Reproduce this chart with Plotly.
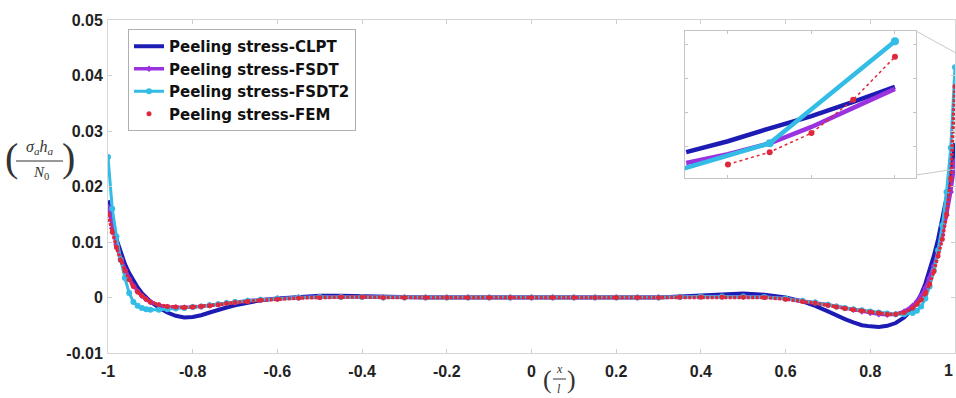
import plotly.graph_objects as go

# ---------------- data ----------------
x_vals = [-1, -0.99, -0.98, -0.97, -0.96, -0.95, -0.94, -0.93, -0.92, -0.91, -0.9,
          -0.88, -0.86, -0.84, -0.82, -0.8, -0.78, -0.76, -0.74, -0.72, -0.7,
          -0.67, -0.64, -0.6,
          -0.55, -0.5, -0.45, -0.4, -0.35, -0.3, -0.25, -0.2, -0.15, -0.1, -0.05,
          0,
          0.05, 0.1, 0.15, 0.2, 0.25,
          0.3, 0.35, 0.4, 0.45, 0.5, 0.55, 0.6,
          0.64, 0.67,
          0.7, 0.72, 0.74, 0.76, 0.78, 0.8, 0.82, 0.84, 0.86, 0.88, 0.9,
          0.91, 0.92, 0.93, 0.94, 0.95, 0.96, 0.97, 0.98, 0.99, 1.0]

clpt = [0.0175, 0.0135, 0.0105, 0.0080, 0.0060, 0.0044, 0.0030, 0.0018, 0.0008, 0.0000, -0.0007,
        -0.0018, -0.0027, -0.0033, -0.0036, -0.0035, -0.0032, -0.0027, -0.0022, -0.0018, -0.0014,
        -0.0009, -0.0005, -0.0002,
        0.0001, 0.0003, 0.0003, 0.0002, 0.0001, 0.0, 0.0, 0.0, 0.0, 0.0, 0.0,
        0.0,
        0.0, 0.0, 0.0, 0.0, 0.0,
        0.0, 0.0002, 0.0004, 0.0006, 0.0007, 0.0005, 0.0000,
        -0.0007, -0.0015,
        -0.0025, -0.0033, -0.0039, -0.0045, -0.0050, -0.0052, -0.0053, -0.0051, -0.0046, -0.0036, -0.0020,
        -0.0008, 0.0006, 0.0025, 0.0048, 0.0075, 0.0105, 0.0140, 0.0180, 0.0225, 0.0278]

fsdt = [0.0163, 0.0125, 0.0095, 0.0070, 0.0050, 0.0034, 0.0021, 0.0011, 0.0003, -0.0003, -0.0008,
        -0.0014, -0.0017, -0.0018, -0.0018, -0.0017, -0.0016, -0.0014, -0.0012, -0.0010, -0.0008,
        -0.0006, -0.0004, -0.0002,
        0.0, 0.0001, 0.0001, 0.0001, 0.0, 0.0, 0.0, 0.0, 0.0, 0.0, 0.0,
        0.0,
        0.0, 0.0, 0.0, 0.0, 0.0,
        0.0, 0.0001, 0.0002, 0.0002, 0.0002, 0.0001, -0.0002,
        -0.0006, -0.0009,
        -0.0013, -0.0016, -0.0019, -0.0022, -0.0025, -0.0028, -0.0030, -0.0031, -0.0030, -0.0025, -0.0015,
        -0.0007, 0.0003, 0.0017, 0.0035, 0.0057, 0.0083, 0.0113, 0.0148, 0.0190, 0.0244]

fsdt2 = [0.0253, 0.0160, 0.0110, 0.0068, 0.0035, 0.0008, -0.0008, -0.0015, -0.0019, -0.0021, -0.0022,
         -0.0022, -0.0021, -0.0020, -0.0019, -0.0017, -0.0016, -0.0014, -0.0012, -0.0010, -0.0008,
         -0.0006, -0.0004, -0.0002,
         0.0, 0.0001, 0.0001, 0.0001, 0.0, 0.0, 0.0, 0.0, 0.0, 0.0, 0.0,
         0.0,
         0.0, 0.0, 0.0, 0.0, 0.0,
         0.0, 0.0001, 0.0002, 0.0002, 0.0002, 0.0001, -0.0002,
         -0.0006, -0.0009,
         -0.0013, -0.0016, -0.0019, -0.0021, -0.0023, -0.0025, -0.0027, -0.0029, -0.0030, -0.0030, -0.0028,
         -0.0024, -0.0016, -0.0002, 0.0020, 0.0048, 0.0085, 0.0130, 0.0190, 0.0270, 0.0415]

fem = [0.0150, 0.0118, 0.0090, 0.0067, 0.0048, 0.0032, 0.0020, 0.0010, 0.0003, -0.0003, -0.0008,
       -0.0013, -0.0016, -0.0017, -0.0018, -0.0017, -0.0016, -0.0015, -0.0013, -0.0011, -0.0009,
       -0.0007, -0.0005, -0.0003,
       -0.0001, 0.0, 0.0001, 0.0001, 0.0, 0.0, 0.0, 0.0, 0.0, 0.0, 0.0,
       0.0,
       0.0, 0.0, 0.0, 0.0, 0.0,
       0.0, 0.0001, 0.0001, 0.0001, 0.0001, 0.0, -0.0003,
       -0.0007, -0.0010,
       -0.0014, -0.0017, -0.0020, -0.0022, -0.0024, -0.0026, -0.0028, -0.0030, -0.0030, -0.0027, -0.0019,
       -0.0012, -0.0004, 0.0007, 0.0024, 0.0047, 0.0075, 0.0105, 0.0150, 0.0215, 0.0380]

# inset (zoom near x = 1)
inset_x = [0.9875, 0.99, 0.9925, 0.995, 0.9975, 1.0]
inset_clpt = [0.0242, 0.0258, 0.0277, 0.0295, 0.0316, 0.0338]
inset_fsdt = [0.0226, 0.0239, 0.0255, 0.0279, 0.0307, 0.0335]
inset_x2 = [0.985, 0.9925, 1.0]
inset_fsdt2 = [0.0201, 0.0255, 0.0405]
inset_xfem = [0.99, 0.9925, 0.995, 0.9975, 1.0]
inset_fem = [0.0224, 0.0242, 0.0270, 0.0319, 0.0382]

x_ticks = [-1, -0.8, -0.6, -0.4, -0.2, 0, 0.2, 0.4, 0.6, 0.8, 1]
x_ticktext = ["-1", "-0.8", "-0.6", "-0.4", "-0.2", "0", "0.2", "0.4", "0.6", "0.8", ""]
x_last_label = "1"   # drawn right-aligned at the plot edge so it is not clipped
y_ticks = [-0.01, 0, 0.01, 0.02, 0.03, 0.04, 0.05]
y_ticktext = ["-0.01", "0", "0.01", "0.02", "0.03", "0.04", "0.05"]
inset_xticks = [0.99, 0.995, 1.0]
inset_yticks = [0.025, 0.03, 0.035, 0.04]

names = ["Peeling stress-CLPT", "Peeling stress-FSDT", "Peeling stress-FSDT2", "Peeling stress-FEM"]
C_CLPT = "#1c1cb4"
C_FSDT = "#9b32e0"
C_FSDT2 = "#32bce6"
C_FEM = "#e0283c"

# ---------------- layout geometry ----------------
W, H = 956, 398
ML, MR, MT, MB = 108, 1, 20, 45
PW, PH = W - ML - MR, H - MT - MB


def px(xp):
    return (xp - ML) / PW


def py(yp):
    return (H - MB - yp) / PH


fig = go.Figure()

# main traces
fig.add_trace(go.Scatter(x=x_vals, y=clpt, mode="lines", name=names[0],
                         line=dict(color=C_CLPT, width=4)))
fig.add_trace(go.Scatter(x=x_vals, y=fsdt, mode="lines+markers", name=names[1],
                         line=dict(color=C_FSDT, width=3.5),
                         marker=dict(symbol="diamond", size=5, color=C_FSDT)))
fig.add_trace(go.Scatter(x=x_vals, y=fsdt2, mode="lines+markers", name=names[2],
                         line=dict(color=C_FSDT2, width=3),
                         marker=dict(symbol="circle", size=6, color=C_FSDT2)))
fig.add_trace(go.Scatter(x=x_vals, y=fem, mode="lines", showlegend=False,
                         line=dict(color=C_FEM, width=3.5, dash="3px,1.5px"), hoverinfo="skip"))
fig.add_trace(go.Scatter(x=x_vals, y=fem, mode="markers", name=names[3],
                         marker=dict(symbol="circle", size=5, color=C_FEM)))

# inset traces
fig.add_trace(go.Scatter(x=inset_x, y=inset_clpt, mode="lines", showlegend=False,
                         line=dict(color=C_CLPT, width=4.5), xaxis="x2", yaxis="y2"))
fig.add_trace(go.Scatter(x=inset_x, y=inset_fsdt, mode="lines", showlegend=False,
                         line=dict(color=C_FSDT, width=4.5), xaxis="x2", yaxis="y2"))
fig.add_trace(go.Scatter(x=inset_x2, y=inset_fsdt2, mode="lines+markers", showlegend=False,
                         line=dict(color=C_FSDT2, width=4.5),
                         marker=dict(size=8, color=C_FSDT2), xaxis="x2", yaxis="y2"))
fig.add_trace(go.Scatter(x=inset_xfem, y=inset_fem, mode="lines+markers", showlegend=False,
                         line=dict(color=C_FEM, width=1.5, dash="dot"),
                         marker=dict(size=6, color=C_FEM), xaxis="x2", yaxis="y2"))

tickfont = dict(family="Liberation Sans", size=16, color="#222222", weight="bold")

fig.update_layout(
    width=W, height=H,
    margin=dict(l=ML, r=MR, t=MT, b=MB),
    paper_bgcolor="white", plot_bgcolor="white",
    showlegend=True,
    legend=dict(x=px(128), y=py(29), xanchor="left", yanchor="top",
                bgcolor="white", bordercolor="#b0b0b0", borderwidth=1,
                font=dict(family="DejaVu Sans", size=15, color="#111111", weight="bold"),
                itemwidth=30),
    xaxis=dict(range=[-1, 1], tickvals=x_ticks, ticktext=x_ticktext, tickfont=tickfont,
               showgrid=False, zeroline=False, showline=True, linecolor="#d6d6d6",
               mirror="ticks", ticks="inside", ticklen=4, tickcolor="#cfcfcf",
               ticklabelstandoff=4, automargin=False),
    yaxis=dict(range=[-0.01, 0.05], tickvals=y_ticks, ticktext=y_ticktext, tickfont=tickfont,
               showgrid=False, zeroline=False, showline=True, linecolor="#d6d6d6",
               mirror="ticks", ticks="inside", ticklen=4, tickcolor="#cfcfcf",
               ticklabelstandoff=1, automargin=False),
    xaxis2=dict(domain=[px(685), px(916)], anchor="y2", range=[0.98743, 1.00126],
                tickvals=inset_xticks, showticklabels=False, showgrid=False, zeroline=False,
                showline=True, linecolor="#c4c4c4", mirror="ticks", ticks="inside",
                ticklen=3, tickcolor="#c4c4c4"),
    yaxis2=dict(domain=[py(178), py(31)], anchor="x2", range=[0.0204, 0.042],
                tickvals=inset_yticks, showticklabels=False, showgrid=False, zeroline=False,
                showline=True, linecolor="#c4c4c4", mirror="ticks", ticks="inside",
                ticklen=3, tickcolor="#c4c4c4"),
)

# connector lines from inset to zoomed region
fig.add_shape(type="line", xref="paper", yref="paper", x0=px(916), y0=py(31), x1=px(956), y1=py(53),
              line=dict(color="#c8c8c8", width=1))
fig.add_shape(type="line", xref="paper", yref="paper", x0=px(916), y0=py(175), x1=px(956), y1=py(169),
              line=dict(color="#c8c8c8", width=1))

# y-axis label: (sigma_a h_a / N_0)
serif = "Liberation Serif"
lab_col = "#333333"
ann = []
ann.append(dict(x=px(11), y=py(157), text="(", font=dict(family=serif, size=40, color=lab_col)))
ann.append(dict(x=px(68), y=py(157), text=")", font=dict(family=serif, size=40, color=lab_col)))
ann.append(dict(x=px(39), y=py(147), text="<i>σ<sub>a</sub>h<sub>a</sub></i>",
                font=dict(family=serif, size=16, color=lab_col)))
ann.append(dict(x=px(41), y=py(173), text="<i>N</i><sub>0</sub>",
                font=dict(family=serif, size=15, color=lab_col)))
# x-axis label: (x / l)
ann.append(dict(x=px(547), y=py(379), text="(", font=dict(family=serif, size=26, color=lab_col)))
ann.append(dict(x=px(571), y=py(379), text=")", font=dict(family=serif, size=26, color=lab_col)))
ann.append(dict(x=px(559), y=py(369), text="<i>x</i>", font=dict(family=serif, size=12, color=lab_col)))
ann.append(dict(x=px(559), y=py(389), text="<i>l</i>", font=dict(family=serif, size=12, color=lab_col)))
for a in ann:
    a.update(xref="paper", yref="paper", showarrow=False, xanchor="center", yanchor="middle")
# last x tick label, right-aligned at the plot edge
ann.append(dict(x=1, y=py(371), xref="paper", yref="paper", showarrow=False,
                xanchor="right", yanchor="middle", text=x_last_label, font=tickfont))
fig.update_layout(annotations=ann)

fig.add_shape(type="line", xref="paper", yref="paper", x0=px(16), y0=py(161), x1=px(63), y1=py(161),
              line=dict(color=lab_col, width=1))
fig.add_shape(type="line", xref="paper", yref="paper", x0=px(553), y0=py(379), x1=px(566), y1=py(379),
              line=dict(color=lab_col, width=1))

fig.write_html("out.html", config={"displayModeBar": False},
               post_script="document.body.style.margin='0px';document.body.style.overflow='hidden';")
